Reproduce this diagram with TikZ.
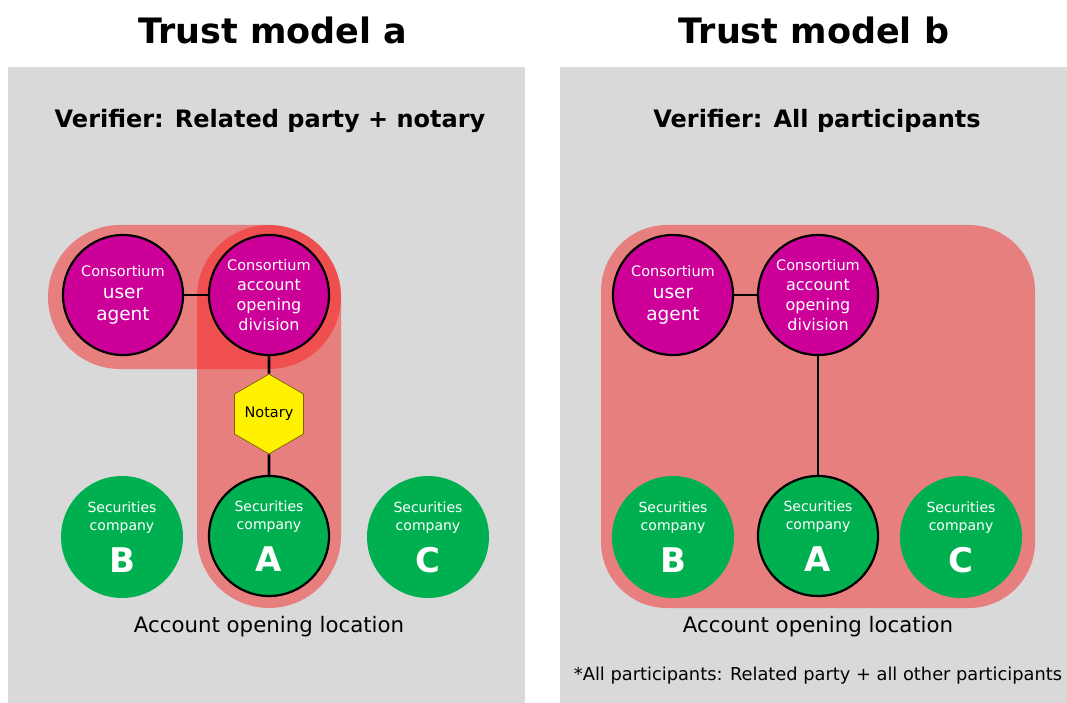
\documentclass[tikz,border=0pt]{standalone}
\usepackage{fontspec}
\setmainfont{DejaVu Sans}
\usetikzlibrary{shapes.geometric}
\definecolor{panelgray}{HTML}{D9D9D9}
\definecolor{consmag}{HTML}{CC0099}
\definecolor{secgreen}{HTML}{00B050}
\definecolor{hlred}{HTML}{FA1717}
\definecolor{notaryedge}{HTML}{7F6000}
\newcommand{\fsz}[2]{\fontsize{#1}{#2}\selectfont}

\begin{document}
\begin{tikzpicture}[x=1pt,y=-1pt]
    \tikzset{
        consnode/.style={circle,draw=black,line width=2.2pt,fill=consmag,text=white,minimum size=120pt,inner sep=0pt,align=center},
        secnode/.style={circle,fill=secgreen,text=white,minimum size=122pt,inner sep=0pt,align=center,font=\fsz{14}{18}},
        secmain/.style={secnode,draw=black,line width=2.2pt,minimum size=120pt},
        notarynode/.style={regular polygon,regular polygon sides=6,shape border rotate=30,minimum size=69pt,inner sep=0pt,fill=yellow,draw=notaryedge,line width=0.7pt,font=\fsz{14.5}{18}},
        linkline/.style={line width=2.6pt,black},
        hlzone/.style={fill=hlred,fill opacity=0.46},
        titletext/.style={font=\bfseries\fsz{35}{40}},
        verifiertext/.style={font=\bfseries\fsz{24}{28}},
        loctext/.style={font=\fsz{21.3}{25}}
    }
    \useasboundingbox (0,0) rectangle (1067,703);
    \fill[white] (0,0) rectangle (1067,703);
        %标题
            \node[titletext] (titleA) at (273,30) {Trust model a};
            \node[titletext] (titleB) at (814,30) {Trust model b};
        %背景
            \fill[panelgray] (8,67) rectangle (525,703);
            \fill[panelgray] (560,67) rectangle (1067,703);
        %模型a
            \node[verifiertext] (verA) at (270,121) {Verifier: Related party + notary};
            \fill[hlzone,rounded corners=72pt] (48,225) rectangle (341,369);
            \fill[hlzone,rounded corners=72pt] (197,225) rectangle (341,608);
            \node[consnode,font=\fsz{18.5}{22}] (agentA) at (123,295) {\fsz{14.5}{22}Consortium\\\fsz{18.5}{22}user\\\fsz{18.5}{22}agent};
            \node[consnode,font=\fsz{16}{20}] (divA) at (269,295) {\fsz{14.5}{20}Consortium\\\fsz{16}{20}account\\\fsz{16}{20}opening\\\fsz{16}{20}division};
            \node[notarynode] (notaryA) at (269,414) {Notary};
            \node[secnode] (secBA) at (122,537) {Securities\\company\\[13pt]\fsz{34}{36}\bfseries B};
            \node[secmain] (secAA) at (269,536) {Securities\\company\\[13pt]\fsz{34}{36}\bfseries A};
            \node[secnode] (secCA) at (428,537) {Securities\\company\\[13pt]\fsz{34}{36}\bfseries C};
            \draw[linkline] (agentA) -- (divA);
            \draw[linkline] (divA) -- (notaryA);
            \draw[linkline] (notaryA) -- (secAA);
            \node[loctext] (locA) at (269,627) {Account opening location};
        %模型b
            \begin{scope}[xshift=549pt]
                \node[verifiertext] (verB) at (268,121) {Verifier: All participants};
                \fill[hlzone,rounded corners=66pt] (52,225) rectangle (486,608);
                \node[consnode,font=\fsz{18.5}{22}] (agentB) at (124,295) {\fsz{14.5}{22}Consortium\\\fsz{18.5}{22}user\\\fsz{18.5}{22}agent};
                \node[consnode,font=\fsz{16}{20}] (divB) at (269,295) {\fsz{14.5}{20}Consortium\\\fsz{16}{20}account\\\fsz{16}{20}opening\\\fsz{16}{20}division};
                \node[secnode] (secBB) at (124,537) {Securities\\company\\[13pt]\fsz{34}{36}\bfseries B};
                \node[secmain] (secAB) at (269,536) {Securities\\company\\[13pt]\fsz{34}{36}\bfseries A};
                \node[secnode] (secCB) at (412,537) {Securities\\company\\[13pt]\fsz{34}{36}\bfseries C};
                \draw[linkline] (agentB) -- (divB);
                \draw[linkline] (divB) -- (secAB);
                \node[loctext] (locB) at (269,627) {Account opening location};
                \node[font=\fsz{17.8}{21}] (noteB) at (269,676) {*All participants: Related party + all other participants};
            \end{scope}
\end{tikzpicture}
\end{document}
